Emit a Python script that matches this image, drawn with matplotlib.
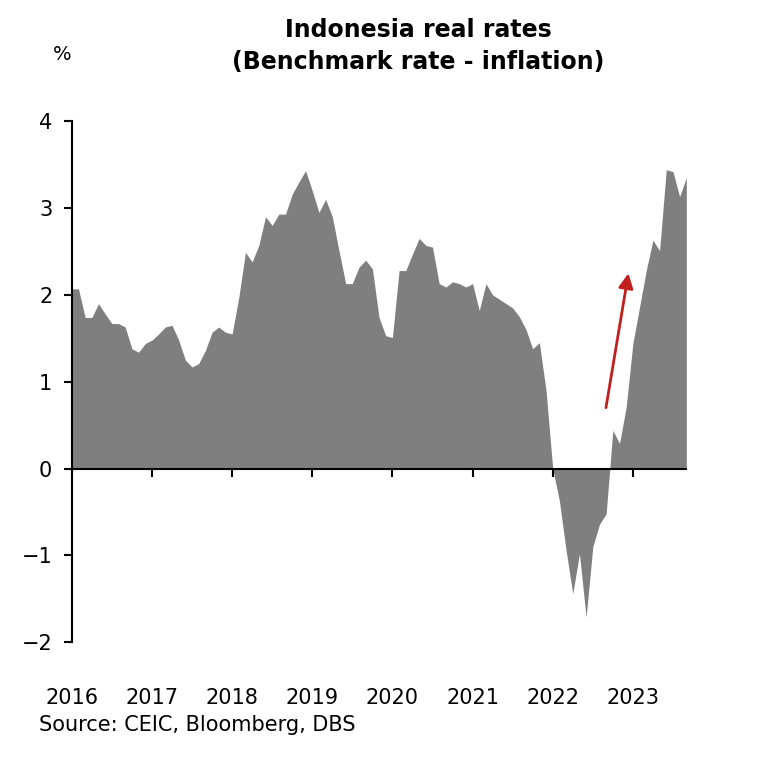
import numpy as np
import matplotlib.pyplot as plt

# Monthly real rates, Jan 2016 .. Sep 2023 (%)
y2016 = [2.07, 2.07, 1.74, 1.74, 1.90, 1.78, 1.67, 1.67, 1.63, 1.38, 1.34, 1.44]
y2017 = [1.48, 1.55, 1.63, 1.65, 1.48, 1.25, 1.17, 1.21, 1.36, 1.57, 1.63, 1.57]
y2018 = [1.55, 1.97, 2.49, 2.38, 2.57, 2.90, 2.80, 2.93, 2.93, 3.16, 3.30, 3.43]
y2019 = [3.20, 2.95, 3.10, 2.90, 2.51, 2.13, 2.13, 2.32, 2.40, 2.30, 1.74, 1.53]
y2020 = [1.51, 2.28, 2.28, 2.47, 2.65, 2.57, 2.55, 2.13, 2.09, 2.15, 2.13, 2.09]
y2021 = [2.13, 1.82, 2.13, 2.00, 1.95, 1.90, 1.85, 1.75, 1.60, 1.38, 1.45, 0.90]
y2022 = [0.00, -0.37, -0.94, -1.44, -0.98, -1.71, -0.90, -0.64, -0.52, 0.44, 0.29, 0.71]
y2023 = [1.44, 1.86, 2.28, 2.63, 2.51, 3.44, 3.42, 3.13, 3.35]
years = ['2016', '2017', '2018', '2019', '2020', '2021', '2022', '2023']

vals = np.array(y2016 + y2017 + y2018 + y2019 + y2020 + y2021 + y2022 + y2023)
months = np.arange(len(vals))

fig = plt.figure(figsize=(7.72, 7.62), dpi=100)
ax = fig.add_axes([0.093, 0.157, 0.796, 0.684])
ax.fill_between(months, vals, 0, color='#7f7f7f', linewidth=0)

ax.set_xlim(0, len(vals) - 1)
ax.set_ylim(-2, 4)
ax.set_yticks([-2, -1, 0, 1, 2, 3, 4])
ax.tick_params(axis='y', labelsize=15, length=6, width=1.5, direction='out', pad=8)
for s in ['top', 'right']:
    ax.spines[s].set_visible(False)
ax.spines['left'].set_linewidth(1.5)
ax.spines['bottom'].set_position(('data', 0))
ax.spines['bottom'].set_linewidth(1.5)
ax.set_xticks(np.arange(0, len(vals), 12))
ax.set_xticklabels([])
ax.tick_params(axis='x', length=6, width=1.5, direction='out')
for i, yr in enumerate(years):
    ax.annotate(yr, xy=(i * 12, 0), xycoords=('data', 'axes fraction'),
                xytext=(0, -40), textcoords='offset points', ha='center',
                va='center', fontsize=15)

ax.annotate('', xy=(83.4, 2.28), xytext=(79.9, 0.67),
            arrowprops=dict(arrowstyle='-|>', color='#C0201E', lw=2,
                            mutation_scale=22))

fig.text(0.542, 0.94, 'Indonesia real rates\n(Benchmark rate - inflation)',
         ha='center', va='center', fontsize=17, fontweight='bold', linespacing=1.4)
fig.text(0.08, 0.928, '%', ha='center', va='center', fontsize=14)
fig.text(0.05, 0.048, 'Source: CEIC, Bloomberg, DBS', ha='left', va='center', fontsize=15)

plt.savefig('out.png', dpi=100)
